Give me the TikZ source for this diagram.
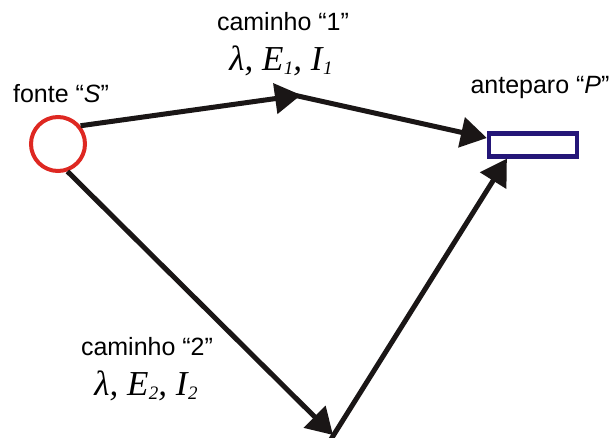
\documentclass[tikz,border=0pt]{standalone}
\usepackage{fontspec}
\setmainfont{Liberation Sans}
\newfontfamily\serifit{Liberation Serif}
\usepackage{tikz}
\usepackage{xcolor}
\usetikzlibrary{arrows.meta}
\definecolor{fonteRed}{RGB}{222,40,34}
\definecolor{anteparoBlue}{RGB}{36,22,120}
\definecolor{raio}{RGB}{26,22,22}
\newcommand{\indice}[1]{\kern0.5pt\raisebox{-0.28ex}{\fontsize{19}{19}\selectfont #1}}

\begin{document}
\begin{tikzpicture}[x=1pt,y=-1pt,every node/.style={font=\fontsize{25}{28}\selectfont},
  raybeam/.style={raio,line width=5pt,-{Triangle[length=26pt,width=30pt]}},
  grandeza/.style={anchor=base,inner sep=0pt,font=\fontsize{35}{36}\selectfont\serifit\itshape}]
\useasboundingbox (0,0) rectangle (613,437);
% fonte e anteparo
\node[circle,draw=fonteRed,line width=4pt,minimum size=54pt,inner sep=0pt] (S) at (58,144) {};
\node[rectangle,draw=anteparoBlue,line width=4.2pt,minimum width=88pt,minimum height=23pt,inner sep=0pt] (P) at (533,145) {};
% vertices dos caminhos
\coordinate (v1) at (301,95);
\coordinate (v2) at (333,435);
% caminho 1
\draw[raybeam] (S.39) -- (v1);
\draw[raybeam] ([xshift=-12pt,yshift=1pt]v1) -- ([yshift=7pt]P.west);
% caminho 2
\draw[raybeam] (S.-71) -- (v2);
\draw[raybeam] ([xshift=-10pt,yshift=-17pt]v2) -- ([xshift=20pt]P.south west);
% rotulos
\node[anchor=base,inner sep=0pt] (lblS) at (61,102) {fonte “\textit{S}”};
\node[anchor=base,inner sep=0pt] (lblP) at (540,93) {anteparo “\textit{P}”};
\node[anchor=base,inner sep=0pt] (lbl1) at (283,30) {caminho “1”};
\node[grandeza] (par1) at (281,70) {λ, E\indice{1}, I\indice{1}};
\node[anchor=base,inner sep=0pt] (lbl2) at (147,355) {caminho “2”};
\node[grandeza] (par2) at (146,395) {λ, E\indice{2}, I\indice{2}};
\end{tikzpicture}
\end{document}
